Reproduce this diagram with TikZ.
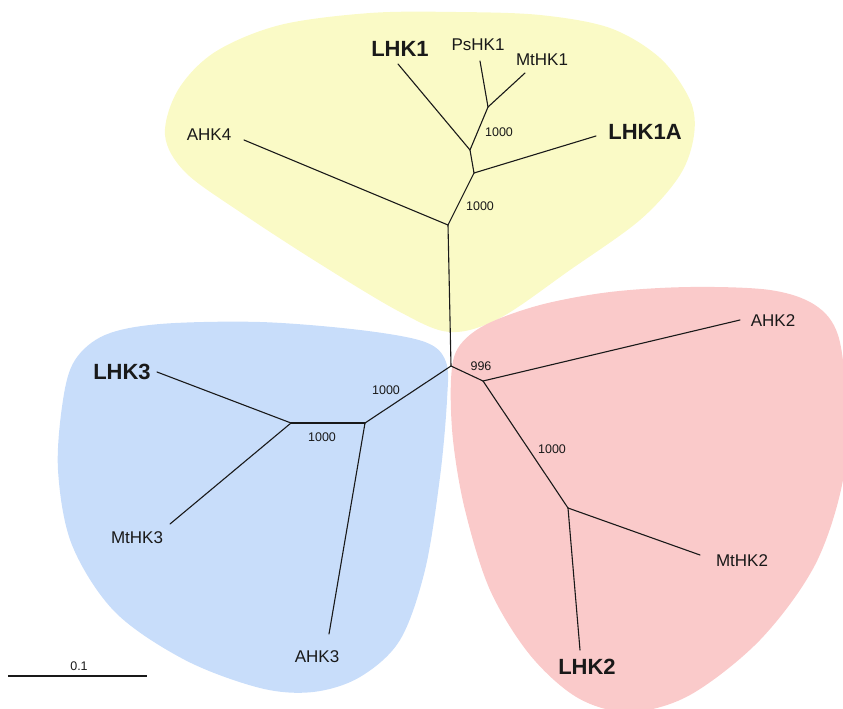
\documentclass[tikz,border=0pt]{standalone}
\usepackage{fontspec}
\setmainfont{Liberation Sans}
\definecolor{yelfill}{RGB}{250,250,198}
\definecolor{bluefill}{RGB}{200,221,250}
\definecolor{redfill}{RGB}{250,202,202}
\definecolor{branch}{RGB}{25,25,25}
\begin{document}
\begin{tikzpicture}[x=1pt,y=-1pt,
  leaf/.style={inner sep=0pt,font=\fontsize{17}{20}\selectfont,text=branch},
  boldleaf/.style={inner sep=0pt,font=\bfseries\fontsize{22}{26}\selectfont,text=branch},
  boot/.style={inner sep=0pt,font=\fontsize{12.5}{15}\selectfont,text=branch},
  edge/.style={draw=branch,line width=1.1pt,line cap=round,line join=round}]
\useasboundingbox (0,0) rectangle (843,709);
% background groups
\fill[yelfill] plot[smooth cycle,tension=0.55] coordinates {(165,135) (178,90) (215,52) (280,25) (370,13) (456,12) (540,15) (610,28) (660,58) (690,100) (694,135) (680,175) (640,220) (570,270) (500,318) (450,332) (400,312) (320,264) (240,212) (185,172)};
\fill[bluefill] plot[smooth cycle,tension=0.55] coordinates {(63,400) (75,360) (105,335) (160,324) (260,322) (360,330) (425,342) (446,362) (447,400) (440,477) (425,570) (400,640) (360,677) (313,692) (260,688) (185,660) (115,612) (72,545) (58,470)};
\fill[redfill] plot[smooth cycle,tension=0.55] coordinates {(451,380) (458,348) (485,325) (540,305) (610,292) (690,287) (770,290) (815,305) (838,335) (846,400) (843,480) (815,565) (760,640) (690,695) (630,712) (578,698) (530,655) (490,590) (465,510) (453,440)};
% internal nodes
\coordinate (C) at (451,366);
\coordinate (A1) at (448,225);
\coordinate (A2) at (474,173);
\coordinate (A3) at (470,150);
\coordinate (A4) at (488,107);
\coordinate (B1) at (483,381);
\coordinate (B2) at (568,508);
\coordinate (D1) at (365,423);
\coordinate (D2) at (291,423);
% leaf ends
\coordinate (eAHK4) at (244,140);
\coordinate (eLHK1A) at (596,136);
\coordinate (eLHK1) at (398,64);
\coordinate (ePsHK1) at (480,61);
\coordinate (eMtHK1) at (525,73);
\coordinate (eAHK2) at (740,320);
\coordinate (eMtHK2) at (700,555);
\coordinate (eLHK2) at (580,650);
\coordinate (eLHK3) at (157,372);
\coordinate (eMtHK3) at (170,524);
\coordinate (eAHK3) at (329,634);
% branches
\draw[edge] (C) -- (A1);
\draw[edge] (A1) -- (eAHK4);
\draw[edge] (A1) -- (A2);
\draw[edge] (A2) -- (eLHK1A);
\draw[edge] (A2) -- (A3);
\draw[edge] (A3) -- (eLHK1);
\draw[edge] (A3) -- (A4);
\draw[edge] (A4) -- (ePsHK1);
\draw[edge] (A4) -- (eMtHK1);
\draw[edge] (C) -- (B1);
\draw[edge] (B1) -- (eAHK2);
\draw[edge] (B1) -- (B2);
\draw[edge] (B2) -- (eMtHK2);
\draw[edge] (B2) -- (eLHK2);
\draw[edge] (C) -- (D1);
\draw[edge] (D1) -- (D2);
\draw[edge] (D2) -- (eLHK3);
\draw[edge] (D2) -- (eMtHK3);
\draw[edge] (D1) -- (eAHK3);
% leaf labels
\node[leaf] (lAHK4) at (209,135) {AHK4};
\node[boldleaf] (lLHK1) at (400,49) {LHK1};
\node[leaf] (lPsHK1) at (478,45) {PsHK1};
\node[leaf] (lMtHK1) at (542,60) {MtHK1};
\node[boldleaf] (lLHK1A) at (645,132) {LHK1A};
\node[leaf] (lAHK2) at (773,321) {AHK2};
\node[leaf] (lMtHK2) at (742,561) {MtHK2};
\node[boldleaf] (lLHK2) at (587,667) {LHK2};
\node[boldleaf] (lLHK3) at (122,372) {LHK3};
\node[leaf] (lMtHK3) at (137,538) {MtHK3};
\node[leaf] (lAHK3) at (317,657) {AHK3};
% bootstrap values
\node[boot] (b1) at (499,132) {1000};
\node[boot] (b2) at (480,206) {1000};
\node[boot] (b3) at (481,366) {996};
\node[boot] (b4) at (552,449) {1000};
\node[boot] (b5) at (386,390) {1000};
\node[boot] (b6) at (322,437) {1000};
% scale bar
\coordinate (sL) at (8,676);
\coordinate (sR) at (147,676);
\draw[edge,line cap=butt] (sL) -- (sR);
\node[boot] (sLabel) at (79,666) {0.1};
\end{tikzpicture}
\end{document}
